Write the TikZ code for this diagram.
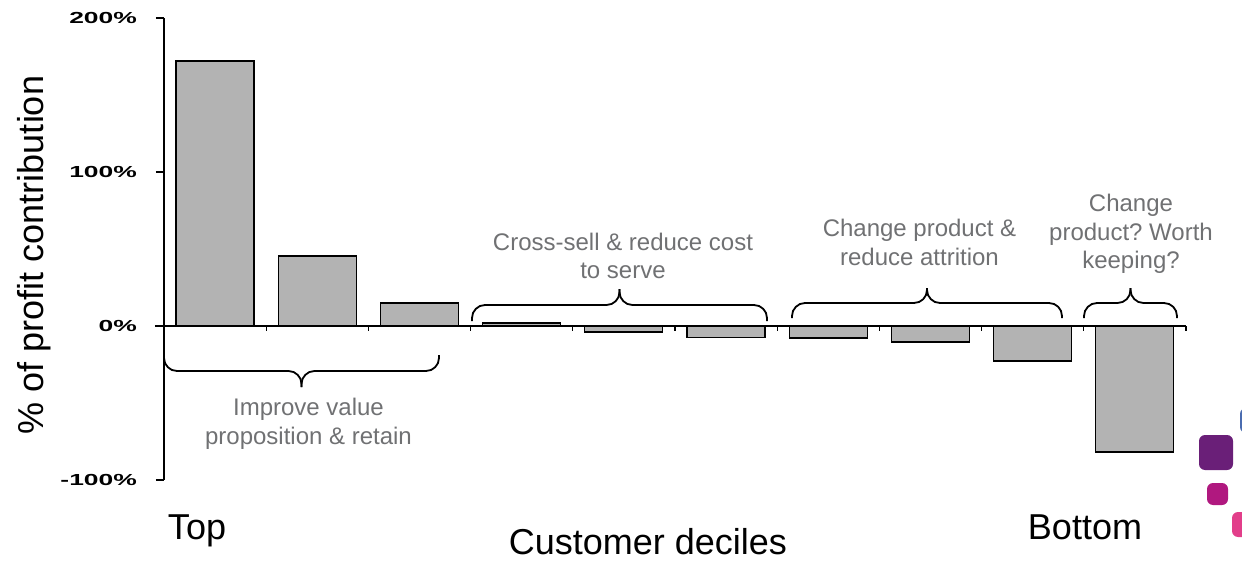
\documentclass[tikz,border=0pt]{standalone}
\usepackage{fontspec}
\setmainfont{Liberation Sans}
\frenchspacing
\definecolor{barfill}{RGB}{179,179,179}
\definecolor{notegray}{RGB}{112,113,115}
\definecolor{tileblue}{RGB}{74,108,176}
\definecolor{tilepurple}{RGB}{106,31,120}
\definecolor{tilemagenta}{RGB}{176,24,127}
\definecolor{tilepink}{RGB}{226,62,138}
\newcommand\groupbrace[4]{%
  \draw[bracestyle] (#1,#3) |- ({(#1+#2)/2},{#3+#4}) -- ({(#1+#2)/2},{#3+2*#4});
  \draw[bracestyle] (#2,#3) |- ({(#1+#2)/2},{#3+#4}) -- ({(#1+#2)/2},{#3+2*#4});}
\begin{document}
\begin{tikzpicture}[x=1pt,y=1pt,
  bar/.style={draw=black, line width=1.3pt, fill=barfill},
  axis/.style={line width=1.2pt},
  ticklab/.style={anchor=east, inner sep=0pt, font=\bfseries\fontsize{16}{16}\selectfont},
  note/.style={align=center, text=notegray, font=\fontsize{24}{28.5}\selectfont},
  big/.style={font=\fontsize{36}{36}\selectfont},
  bracestyle/.style={line width=1.8pt, rounded corners=13pt},
  tile/.style={rounded corners=6pt}]
\useasboundingbox (-164,-234) rectangle (1078,326);
\draw[axis] (0,308) -- (0,-154);
\foreach \t/\lab [count=\k] in {308/200\%,154/100\%,0/0\%,-154/-100\%}{
  \draw[axis] (-8,\t) -- (0,\t);
  \node[ticklab] (tick\k) at (-27,\t) {\scalebox{1.65}[1]{\lab}};
}
\foreach \v [count=\i] in {172,45.5,15,2,-3.9,-7.3,-7.8,-10.4,-22.7,-81.8}
  \draw[bar] ({12+102.2*(\i-1)},0) rectangle ++(78,{1.54*\v});
\draw[axis] (-9,0) -- (1022,0);
\foreach \k in {1,...,10}
  \draw[axis] ({102.2*\k},0) -- ++(0,-5);
\node[big, rotate=90] (ytitle) at (-130,71) {\% of profit contribution};
\node[big, anchor=base] (topend) at (33,-213) {Top};
\node[big, anchor=base] (bottomend) at (921,-213) {Bottom};
\node[big, anchor=base] (xtitle) at (484,-228) {Customer deciles};
\groupbrace{0}{275}{-29}{-16}
\groupbrace{308}{603}{5}{16}
\groupbrace{628}{898}{8}{15}
\groupbrace{920}{1013}{8}{15}
\node[note] (improve) at (144.5,-98) {Improve value\\proposition \& retain};
\node[note] (crosssell) at (459,70) {Cross-sell \& reduce cost\\to serve};
\node[note] (attrition) at (755.5,83.5) {Change product \&\\reduce attrition};
\node[note] (keeping) at (967,92) {Change\\product? Worth\\keeping?};
\fill[tileblue, tile] (1076,-82) rectangle (1096,-107);
\fill[tilepurple, tile] (1035,-109) rectangle (1069,-144);
\fill[tilemagenta, tile] (1043,-157) rectangle (1064,-179);
\fill[tilepink, tile] (1068,-186) rectangle (1094,-211);
\end{tikzpicture}
\end{document}
